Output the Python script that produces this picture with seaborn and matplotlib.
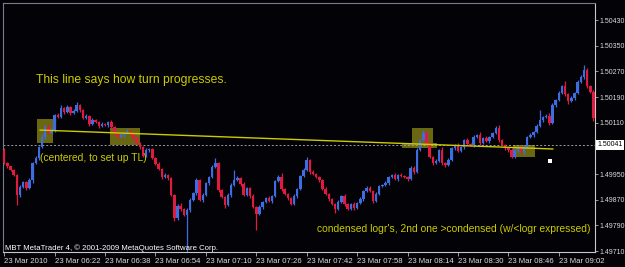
import numpy as np
import pandas as pd
import matplotlib
matplotlib.use("Agg")
import matplotlib.pyplot as plt
from matplotlib.patches import Rectangle
import seaborn as sns

# ---------------- data ----------------
BASE_PRICE = 1.49700
POINT = 0.00001
first_open_pts = 325
close_pts = [
    284, 275, 262, 247, 185, 210, 225, 206, 231, 284, 300, 334, 365, 397, 378, 387, 434, 428, 456, 443,
    459, 440, 446, 465, 450, 425, 431, 406, 418, 412, 400, 406, 403, 412, 397, 378, 365, 372, 378, 384,
    375, 362, 347, 334, 306, 325, 328, 300, 281, 266, 241, 247, 238, 185, 113, 150, 141, 122, 138, 169,
    191, 231, 169, 185, 222, 241, 272, 284, 200, 178, 153, 185, 216, 231, 238, 219, 185, 206, 181, 147,
    125, 147, 163, 175, 166, 181, 228, 241, 203, 188, 175, 157, 181, 203, 244, 262, 294, 256, 250, 241,
    231, 203, 188, 172, 157, 141, 163, 181, 157, 141, 157, 144, 160, 172, 197, 206, 197, 166, 188, 213,
    216, 222, 241, 247, 234, 247, 244, 241, 234, 269, 256, 325, 356, 378, 347, 303, 284, 291, 325, 284,
    278, 294, 331, 340, 322, 334, 356, 344, 340, 365, 372, 347, 362, 353, 365, 378, 393, 356, 340, 331,
    325, 303, 325, 334, 319, 334, 365, 372, 381, 400, 418, 428, 431, 409, 465, 481, 502, 524, 499, 478,
    487, 502, 537, 552, 574, 524, 506, 425,
]
wick_up_pts = [
    6, 3, 0, 3, 3, 6, 3, 3, 6, 3, 6, 3, 9, 6, 9, 6, 3, 6, 9, 3,
    6, 3, 6, 9, 3, 3, 6, 3, 6, 3, 3, 6, 3, 3, 6, 3, 3, 6, 3, 6,
    3, 3, 6, 3, 3, 6, 3, 3, 3, 6, 3, 6, 3, 3, 3, 6, 9, 3, 6, 6,
    3, 6, 3, 6, 3, 3, 6, 16, 3, 3, 3, 6, 6, 31, 6, 3, 6, 3, 3, 6,
    3, 6, 3, 3, 6, 3, 3, 6, 12, 3, 3, 3, 6, 3, 3, 6, 9, 3, 6, 3,
    3, 3, 6, 3, 3, 3, 6, 3, 6, 3, 3, 6, 3, 6, 3, 6, 6, 3, 6, 3,
    3, 6, 3, 3, 6, 3, 6, 3, 3, 6, 6, 6, 3, 9, 6, 3, 3, 6, 3, 9,
    3, 6, 3, 3, 6, 3, 3, 6, 3, 6, 3, 9, 3, 6, 3, 3, 6, 9, 3, 3,
    3, 6, 3, 3, 6, 3, 3, 6, 3, 6, 31, 3, 6, 9, 6, 3, 6, 3, 16, 3,
    6, 3, 6, 6, 16, 6, 3, 6,
]
wick_dn_pts = [
    3, 6, 3, 3, 31, 6, 3, 6, 3, 9, 3, 6, 3, 6, 3, 3, 6, 3, 3, 6,
    3, 6, 3, 3, 6, 3, 3, 6, 3, 3, 6, 3, 3, 6, 3, 6, 3, 3, 6, 3,
    3, 6, 3, 6, 3, 3, 6, 3, 3, 3, 6, 3, 6, 3, 9, 6, 6, 3, 115, 6,
    3, 6, 3, 6, 3, 6, 3, 3, 6, 3, 9, 3, 6, 3, 3, 6, 3, 3, 6, 3,
    50, 3, 6, 3, 3, 6, 3, 3, 6, 3, 6, 3, 3, 6, 3, 3, 3, 6, 3, 3,
    6, 3, 3, 6, 3, 12, 3, 3, 6, 3, 3, 6, 3, 3, 6, 3, 3, 6, 3, 3,
    3, 3, 6, 3, 3, 6, 3, 3, 6, 3, 6, 3, 3, 3, 6, 3, 6, 3, 3, 6,
    6, 3, 3, 6, 3, 3, 6, 3, 3, 6, 3, 6, 3, 3, 6, 3, 3, 6, 3, 6,
    6, 3, 3, 6, 3, 6, 3, 3, 6, 3, 3, 6, 3, 6, 3, 6, 3, 3, 6, 9,
    3, 6, 3, 3, 6, 6, 3, 9,
]
time_labels = ["23 Mar 2010", "23 Mar 06:22", "23 Mar 06:38", "23 Mar 06:54",
               "23 Mar 07:10", "23 Mar 07:26", "23 Mar 07:42", "23 Mar 07:58",
               "23 Mar 08:14", "23 Mar 08:30", "23 Mar 08:46", "23 Mar 09:02"]
bars_per_label = 16
price_ticks = [1.49710, 1.49790, 1.49870, 1.49950, 1.50030,
               1.50110, 1.50190, 1.50270, 1.50350, 1.50430]
hidden_tick = 1.50030  # covered by the current-price label
current_price = 1.50041
trend_idx = [11.3, 174.2]
trend_price = [1.50087, 1.50028]
# highlight boxes: (start bar, end bar, low price, high price)
box_bar0 = [10.4, 33.6, 129.4, 126.3, 161.5]
box_bar1 = [15.5, 43.1, 136.1, 137.4, 168.5]
box_lo = [1.50046, 1.50040, 1.50031, 1.50031, 1.50003]
box_hi = [1.50121, 1.50093, 1.50093, 1.50047, 1.50040]

# ---------------- frame ----------------
n = len(close_pts)
close = BASE_PRICE + np.array(close_pts) * POINT
opens = np.concatenate([[BASE_PRICE + first_open_pts * POINT], close[:-1]])
high = np.maximum(opens, close) + np.array(wick_up_pts) * POINT
low = np.minimum(opens, close) - np.array(wick_dn_pts) * POINT
df = pd.DataFrame({"bar": np.arange(n), "open": opens, "close": close,
                   "high": high, "low": low})
df["bull"] = df["close"] >= df["open"]

# ---------------- style ----------------
sns.set_theme(style="dark")
plt.rcParams["font.family"] = ["Liberation Sans", "DejaVu Sans"]
BG = "#030206"
BULL = "#3d6de0"
BEAR = "#e01a40"
YEL = "#cccc00"
TXT = "#dcdcdc"

fig = plt.figure(figsize=(6.25, 2.67), dpi=100, facecolor=BG)
ax = fig.add_axes([3 / 625, 15 / 267, 592 / 625, 249 / 267])
ax.set_facecolor(BG)

# highlight boxes
for b0, b1, lo, hi in zip(box_bar0, box_bar1, box_lo, box_hi):
    ax.add_patch(Rectangle((b0, lo), b1 - b0, hi - lo, facecolor="#6f6d12",
                           edgecolor="none", alpha=0.95, zorder=1))

# candles
colors = np.where(df["bull"], BULL, BEAR)
ax.vlines(df["bar"], df["low"], df["high"], colors=colors, lw=0.9, zorder=2)
body_lo = np.minimum(df["open"], df["close"])
body_h = np.maximum(np.abs(df["close"] - df["open"]), 2 * POINT)
ax.bar(df["bar"], body_h, bottom=body_lo, width=0.78, color=colors,
       linewidth=0, zorder=3)

# trend line
sns.lineplot(x=trend_idx, y=trend_price, ax=ax, color=YEL, lw=1.0, zorder=4)

# current price line
ax.axhline(current_price, color="#9a9aa0", lw=0.7, ls=(0, (2, 2)), zorder=1.5)

ax.set_xlim(-0.4, 187.5)
ax.set_ylim(1.49707, 1.50483)

# axes
ax.yaxis.tick_right()
ax.set_yticks(price_ticks)
ax.set_yticklabels(["" if abs(p - hidden_tick) < 1e-9 else f"{p:.5f}"
                    for p in price_ticks])
xt = np.arange(0, len(time_labels) * bars_per_label, bars_per_label)
ax.set_xticks(xt)
ax.set_xticklabels(time_labels)
for lab in ax.get_xticklabels():
    lab.set_horizontalalignment("left")
ax.tick_params(axis="both", which="both", colors="#b0b0b0", labelcolor=TXT,
               labelsize=5.6, length=3, width=0.6, direction="out", pad=1.5)
ax.tick_params(axis="y", right=True, left=False, labelright=True,
               labelleft=False, labelsize=5.0, pad=0.8, length=2.5)
ax.tick_params(axis="x", bottom=True)
ax.grid(False)
for side in ["top", "left"]:
    ax.spines[side].set_color("#7a7a90")
    ax.spines[side].set_linestyle((0, (1, 1)))
    ax.spines[side].set_linewidth(0.8)
for side in ["right", "bottom"]:
    ax.spines[side].set_color("#c8c8c8")
    ax.spines[side].set_linewidth(0.8)
ax.set_xlabel("")
ax.set_ylabel("")

# current price label
ax.annotate(f"{current_price:.5f}", xy=(1.0, current_price),
            xycoords=("axes fraction", "data"), xytext=(2.0, 0),
            textcoords="offset points", ha="left", va="center",
            fontsize=5.0, color="black", zorder=10, annotation_clip=False,
            bbox=dict(boxstyle="square,pad=0.2", fc="white", ec="none"))

# annotations
fig.text(36 / 625, 1 - 80 / 267, "This line says how turn progresses.",
         color=YEL, fontsize=8.7, ha="left", va="center")
fig.text(40 / 625, 1 - 158 / 267, "(centered, to set up TL)",
         color=YEL, fontsize=7.4, ha="left", va="center")
fig.text(317 / 625, 1 - 229 / 267,
         "condensed logr's, 2nd one >condensed (w/<logr expressed)",
         color=YEL, fontsize=7.4, ha="left", va="center")
fig.text(5 / 625, 1 - 248 / 267,
         "MBT MetaTrader 4, \u00a9 2001-2009 MetaQuotes Software Corp.",
         color="white", fontsize=5.6, ha="left", va="center")
fig.patches.append(Rectangle((548 / 625, 1 - 163 / 267), 4 / 625, 4 / 267,
                             transform=fig.transFigure, facecolor="white",
                             edgecolor="none"))

fig.savefig("out.png", dpi=100, facecolor=BG)
